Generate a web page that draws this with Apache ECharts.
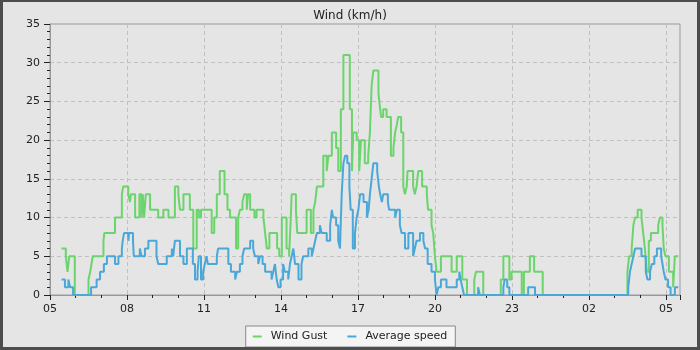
<!DOCTYPE html>
<html><head><meta charset="utf-8">
<script src="https://cdn.jsdelivr.net/npm/echarts@6/dist/echarts.min.js"></script>
<style>
html,body{margin:0;padding:0;background:#4d4d4d;width:700px;height:350px;overflow:hidden}
#c{position:absolute;left:3px;top:2px;width:694px;height:345px;background:#e5e5e5}
</style></head><body><div id="c"></div>
<script>
const chartTitle = 'Wind (km/h)';
const seriesNames = ['Wind Gust', 'Average speed'];
// x in minutes since 05:00; labels every 3 hours
const xTickLabels = ['05','08','11','14','17','20','23','02','05'];
const xMaxMinutes = 1473;
const yMax = 35;
// [minutes since 05:00, km/h] — value holds until next change
const gustSteps = [[27,6],[37,5],[41,3],[45,5],[58,0],[90,2],[94,3],[97,4],[100,5],[125,7],[127,8],[152,10],[168,13],[171,14],[183,13],[187,12],[189,13],[199,10],[209,13],[214,10],[217,13],[220,10],[224,13],[234,11],[253,10],[265,11],[277,10],[292,14],[300,13],[304,11],[312,13],[327,11],[335,6],[343,11],[348,10],[353,11],[378,8],[384,10],[390,13],[397,16],[408,13],[415,11],[421,10],[435,6],[440,10],[444,11],[450,12],[454,13],[460,11],[463,13],[468,11],[478,10],[483,11],[499,10],[503,8],[507,6],[513,8],[531,6],[536,5],[542,10],[553,6],[559,5],[563,10],[565,13],[575,11],[578,8],[600,11],[610,8],[616,11],[620,12],[624,14],[639,18],[647,16],[651,18],[659,21],[669,19],[674,16],[680,24],[686,31],[701,24],[706,16],[709,21],[717,20],[723,16],[727,20],[736,17],[744,18],[748,21],[752,27],[756,29],[768,26],[772,24],[774,23],[779,24],[787,23],[797,18],[803,19],[807,21],[811,22],[814,23],[821,21],[826,14],[830,13],[834,14],[836,16],[849,14],[853,13],[857,14],[861,16],[870,14],[881,13],[884,11],[892,9],[896,8],[900,5],[904,3],[914,5],[939,3],[951,5],[964,2],[975,0],[992,2],[996,3],[1013,0],[1054,2],[1060,5],[1074,2],[1079,3],[1103,0],[1108,3],[1122,5],[1132,3],[1152,0],[1350,3],[1354,5],[1360,6],[1364,9],[1368,10],[1374,11],[1383,10],[1387,8],[1391,6],[1395,3],[1400,7],[1405,8],[1422,9],[1426,10],[1432,9],[1435,6],[1439,5],[1447,3],[1457,1],[1461,5],[1469,5]];
const avgSteps = [[27,2],[35,1],[43,2],[47,1],[54,0],[96,1],[109,2],[117,3],[126,4],[133,5],[152,4],[160,5],[168,6],[170,7],[173,8],[183,7],[185,8],[194,7],[196,5],[210,6],[214,5],[222,6],[230,7],[249,5],[253,4],[273,5],[285,6],[288,5],[292,7],[304,5],[312,4],[320,6],[334,4],[339,2],[345,3],[348,5],[353,2],[358,3],[362,4],[366,5],[369,4],[390,5],[393,6],[417,4],[423,3],[433,2],[437,3],[444,4],[450,5],[454,6],[468,7],[475,6],[479,5],[487,4],[491,5],[497,4],[503,3],[518,2],[522,3],[526,4],[530,2],[534,1],[539,2],[545,4],[549,3],[557,2],[561,4],[565,5],[569,6],[573,4],[581,2],[588,4],[592,5],[604,6],[612,5],[616,6],[620,7],[624,8],[631,9],[635,8],[647,7],[655,9],[659,11],[662,10],[669,9],[674,7],[678,6],[682,13],[686,17],[690,18],[695,17],[700,14],[703,11],[708,6],[713,8],[717,10],[721,11],[725,13],[733,12],[741,10],[745,11],[748,13],[752,15],[756,17],[765,16],[769,14],[772,13],[776,12],[779,13],[790,12],[793,11],[807,10],[811,11],[818,9],[822,8],[830,6],[838,8],[849,5],[853,6],[857,7],[865,8],[873,7],[877,6],[883,4],[892,3],[900,2],[904,0],[908,1],[914,2],[927,1],[951,2],[957,3],[960,2],[964,1],[968,0],[1001,1],[1005,0],[1060,1],[1063,2],[1069,1],[1074,0],[1118,1],[1134,0],[1352,1],[1356,3],[1360,4],[1364,5],[1368,6],[1383,5],[1393,3],[1397,2],[1403,3],[1407,4],[1413,5],[1419,6],[1429,5],[1432,4],[1435,3],[1439,2],[1445,1],[1451,0],[1461,1],[1469,1]];

const FONT = 'DejaVu Sans';
const chart = echarts.init(document.getElementById('c'), null, {renderer: 'canvas'});
chart.setOption({
  animation: false,
  backgroundColor: '#e5e5e5',
  title: {
    text: chartTitle, left: 'center', top: 3,
    textStyle: {fontFamily: FONT, fontSize: 12, fontWeight: 'normal', color: '#222'}
  },
  legend: {
    data: seriesNames, left: 'center', top: 324,
    backgroundColor: '#f4f4f4', borderColor: '#888', borderWidth: 1, borderRadius: 0,
    padding: [5, 8, 5, 7], itemGap: 20, itemWidth: 9, itemHeight: 2, icon: 'rect',
    textStyle: {fontFamily: FONT, fontSize: 11, color: '#222', padding: [0, 0, 0, 4]}
  },
  grid: {left: 47, top: 22, right: 17, bottom: 52, show: true, borderColor: '#999', borderWidth: 1, backgroundColor: 'transparent'},
  xAxis: {
    type: 'value', min: 0, max: xMaxMinutes, interval: 180,
    axisLine: {show: true, lineStyle: {color: '#999', width: 1}},
    axisTick: {show: true, length: 5, lineStyle: {color: '#222'}},
    minorTick: {show: true, splitNumber: 3, length: 3, lineStyle: {color: '#222'}},
    splitLine: {show: true, lineStyle: {color: '#c0c0c0', type: [4, 3]}},
    axisLabel: {
      margin: 9, fontFamily: FONT, fontSize: 11, color: '#222', showMaxLabel: false,
      formatter: v => (v % 180 === 0 ? xTickLabels[v / 180] : '')
    }
  },
  yAxis: {
    type: 'value', min: 0, max: yMax, interval: 5,
    axisLine: {show: true, lineStyle: {color: '#999', width: 1}},
    axisTick: {show: true, length: 6, lineStyle: {color: '#222'}},
    minorTick: {show: true, splitNumber: 5, length: 3, lineStyle: {color: '#222'}},
    splitLine: {show: true, lineStyle: {color: '#c0c0c0', type: [4, 3]}},
    axisLabel: {margin: 10, fontFamily: FONT, fontSize: 11, color: '#222'}
  },
  series: [
    {name: seriesNames[0], type: 'line', step: 'end', data: gustSteps, showSymbol: false, symbol: 'none',
     itemStyle: {color: '#6cd46c'}, lineStyle: {color: '#6cd46c', width: 2}},
    {name: seriesNames[1], type: 'line', step: 'end', data: avgSteps, showSymbol: false, symbol: 'none',
     itemStyle: {color: '#4aa8d8'}, lineStyle: {color: '#4aa8d8', width: 2}}
  ]
});
</script></body></html>
